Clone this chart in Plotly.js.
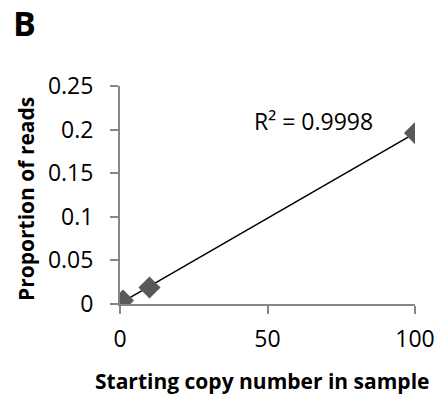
<!DOCTYPE html>
<html>
<head>
<meta charset="utf-8">
<script src="https://cdn.plot.ly/plotly-3.0.1.min.js"></script>
<style>html,body{margin:0;padding:0;background:#fff;}</style>
</head>
<body>
<div id="chart" style="width:446px;height:401px;"></div>
<script>
var copyNumber = [1, 10, 100];
var proportion = [0.004, 0.019, 0.196];
var xTickVals = [0, 50, 100];
var yTickVals = [0, 0.05, 0.1, 0.15, 0.2, 0.25];
var yTickText = ['0', '0.05', '0.1', '0.15', '0.2', '0.25'];
var rSquaredText = 'R² = 0.9998';
var panelLabel = 'B';
var xTitle = 'Starting copy number in sample';
var yTitle = 'Proportion of reads';

// least-squares trendline from the data
var n = copyNumber.length, sx = 0, sy = 0, sxx = 0, sxy = 0;
for (var i = 0; i < n; i++) { sx += copyNumber[i]; sy += proportion[i]; sxx += copyNumber[i]*copyNumber[i]; sxy += copyNumber[i]*proportion[i]; }
var slope = (n*sxy - sx*sy) / (n*sxx - sx*sx);
var intercept = (sy - slope*sx) / n;
var xMin = Math.min.apply(null, copyNumber), xMax = Math.max.apply(null, copyNumber);
var trendX = [xMin, xMax];
var trendY = trendX.map(function(v){ return intercept + slope*v; });

var font = 'Open Sans, sans-serif';

var traces = [
  {x: trendX, y: trendY, mode: 'lines', type: 'scatter', line: {color: '#000', width: 1.5}, hoverinfo: 'skip'},
  {x: copyNumber, y: proportion, mode: 'markers', type: 'scatter', marker: {symbol: 'diamond', size: 17, color: '#595959'}},
];

var layout = {
  width: 446, height: 401,
  margin: {l: 120, r: 31, t: 86, b: 97},
  showlegend: false,
  paper_bgcolor: '#fff', plot_bgcolor: '#fff',
  font: {family: font, color: '#000', size: 23},
  xaxis: {
    range: [0, 100], tickvals: xTickVals, ticktext: xTickVals.map(String),
    showgrid: false, zeroline: false, showline: true, linecolor: '#868686', linewidth: 2,
    ticks: 'outside', ticklen: 8, tickwidth: 2, tickcolor: '#868686',
    tickfont: {family: font, size: 23, color: '#000'}, ticklabelstandoff: 5
  },
  yaxis: {
    range: [0, 0.25], tickvals: yTickVals, ticktext: yTickText,
    showgrid: false, zeroline: false, showline: true, linecolor: '#868686', linewidth: 2,
    ticks: 'outside', ticklen: 8, tickwidth: 2, tickcolor: '#868686',
    tickfont: {family: font, size: 23, color: '#000'}, ticklabelstandoff: 12
  },
  annotations: [
    {text: rSquaredText, xref: 'paper', yref: 'paper', x: (252-120)/295, y: (304-121)/218, xanchor: 'left', yanchor: 'middle', showarrow: false, font: {family: font, size: 23, color: '#000'}},
    {text: '<b>' + panelLabel + '</b>', xref: 'paper', yref: 'paper', x: (24-120)/295, y: (304-23)/218, xanchor: 'center', yanchor: 'middle', showarrow: false, font: {family: font, size: 34, color: '#000'}},
    {text: '<b>' + xTitle + '</b>', xref: 'paper', yref: 'paper', x: (262-120)/295, y: (304-381)/218, xanchor: 'center', yanchor: 'middle', showarrow: false, font: {family: font, size: 21, color: '#000'}},
    {text: '<b>' + yTitle + '</b>', xref: 'paper', yref: 'paper', x: (26-120)/295, y: (304-199)/218, xanchor: 'center', yanchor: 'middle', textangle: -90, showarrow: false, font: {family: font, size: 21, color: '#000'}}
  ]
};

Plotly.newPlot('chart', traces, layout, {displayModeBar: false, staticPlot: true});
</script>
</body>
</html>
